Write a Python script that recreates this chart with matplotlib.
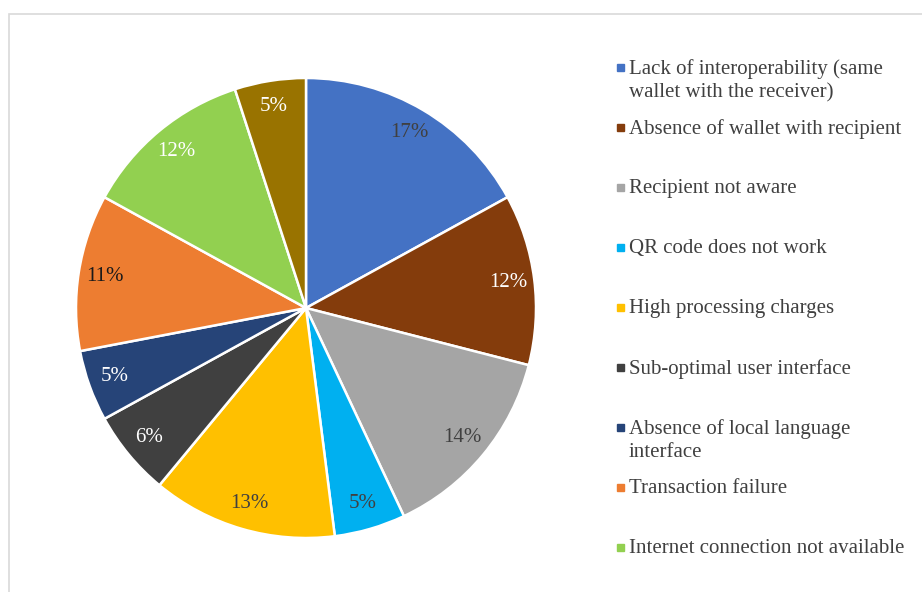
import matplotlib.pyplot as plt
from matplotlib.patches import Rectangle

plt.rcParams['font.family'] = ['Liberation Serif', 'DejaVu Serif']

categories = [
    "Lack of interoperability (same\nwallet with the receiver)",
    "Absence of wallet with recipient",
    "Recipient not aware",
    "QR code does not work",
    "High processing charges",
    "Sub-optimal user interface",
    "Absence of local language\ninterface",
    "Transaction failure",
    "Internet connection not available",
    "Others",
]
shares = [17, 12, 14, 5, 13, 6, 5, 11, 12, 5]
colors = ['#4472C4', '#843C0C', '#A5A5A5', '#00B0F0', '#FFC000',
          '#404040', '#264478', '#ED7D31', '#92D050', '#997300']
label_colors = ['#404040', 'white', '#404040', '#404040', '#404040',
                'white', 'white', '#1a1a1a', 'white', 'white']

fig = plt.figure(figsize=(9.22, 5.92), dpi=100)

# light frame around the chart area
fig.patches.append(Rectangle((9 / 922, -0.1), 1.0, (592 - 14) / 592 + 0.1,
                             transform=fig.transFigure, fill=False,
                             edgecolor='#D9D9D9', linewidth=1.2))

ax = fig.add_axes([76 / 922, 54 / 592, 460 / 922, 460 / 592])
wedges, texts, autotexts = ax.pie(
    shares, colors=colors, startangle=90, counterclock=False, radius=1,
    autopct=lambda p: f"{p:.0f}%", pctdistance=0.885,
    wedgeprops=dict(edgecolor='white', linewidth=1.8),
    textprops=dict(fontsize=15))
for t, c in zip(autotexts, label_colors):
    t.set_color(c)
ax.set_xlim(-1, 1)
ax.set_ylim(-1, 1)
ax.set_aspect('equal')
ax.axis('off')

# legend: the last category does not fit in the frame
y0, step = 68, 60
for i, (name, col) in enumerate(zip(categories[:9], colors[:9])):
    y = y0 + i * step
    fig.patches.append(Rectangle((617 / 922, 1 - (y + 3) / 592), 7 / 922, 7 / 592,
                                 transform=fig.transFigure, color=col))
    fig.text(629 / 922, 1 - (y - 9) / 592, name, ha='left', va='top',
             fontsize=15, color='#404040', linespacing=1.3)

fig.savefig('out.png', dpi=100)
